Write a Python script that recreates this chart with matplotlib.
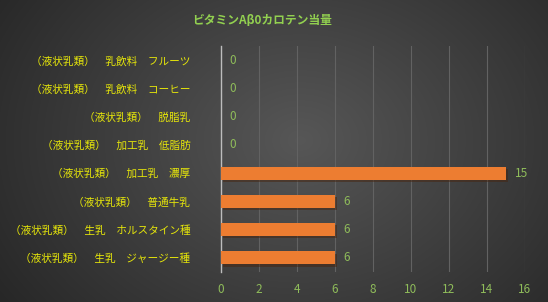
import numpy as np
import matplotlib
matplotlib.use("Agg")
import matplotlib.pyplot as plt
import matplotlib.patheffects as pe

plt.rcParams['font.family'] = ['Noto Sans CJK JP', 'DejaVu Sans']

title = "ビタミンAβ0カロテン当量"
categories = [
    "（液状乳類）　生乳　ジャージー種",
    "（液状乳類）　生乳　ホルスタイン種",
    "（液状乳類）　普通牛乳",
    "（液状乳類）　加工乳　濃厚",
    "（液状乳類）　加工乳　低脂肪",
    "（液状乳類）　脱脂乳",
    "（液状乳類）　乳飲料　コーヒー",
    "（液状乳類）　乳飲料　フルーツ",
]
values = [6, 6, 6, 15, 0, 0, 0, 0]
xticks = [0, 2, 4, 6, 8, 10, 12, 14, 16]

fig = plt.figure(figsize=(5.48, 3.02), dpi=100)

# radial gradient background
bg = fig.add_axes([0, 0, 1, 1])
yy, xx = np.mgrid[0:302, 0:548]
r = np.sqrt(((xx - 300) / 330.0) ** 2 + ((yy - 140) / 260.0) ** 2)
g = np.clip(0.34 - 0.17 * r, 0.15, 0.36)
bg.imshow(np.dstack([g, g, g]), aspect='auto', extent=[0, 1, 0, 1])
bg.set_axis_off()

ax = fig.add_axes([0.403, 0.099, 0.555, 0.749])
ax.patch.set_alpha(0)
y = np.arange(len(categories))
bars = ax.barh(y, values, height=0.46, color='#ED7D31', zorder=3)
for b in bars:
    b.set_path_effects([pe.SimplePatchShadow(offset=(1.5, -1.5), alpha=0.5), pe.Normal()])

for yi, v in zip(y, values):
    ax.text(v + 0.45, yi, str(v), va='center', ha='left', color='#8fbc5a', fontsize=8.5)

ax.set_xlim(0, 16)
ax.set_ylim(-0.5, len(categories) - 0.5)
ax.set_xticks(xticks)
ax.set_yticks(y)
ax.set_yticklabels(categories)
ax.tick_params(axis='x', labelsize=8.5, length=0, pad=8)
ax.tick_params(axis='y', labelsize=7.7, length=0, pad=22)
for lbl in ax.get_yticklabels():
    lbl.set_color('#e6e60a')
for lbl in ax.get_xticklabels():
    lbl.set_color('#8fbc5a')
ax.grid(axis='x', color='#626262', linewidth=0.8, zorder=0)
for s in ['top', 'right', 'bottom']:
    ax.spines[s].set_visible(False)
ax.spines['left'].set_color('#bdbdbd')
ax.spines['left'].set_linewidth(1.0)

fig.text(0.478, 0.932, title, ha='center', va='center', color='#92d050',
         fontsize=8.5, fontweight='bold')

fig.savefig('out.png', dpi=100)
